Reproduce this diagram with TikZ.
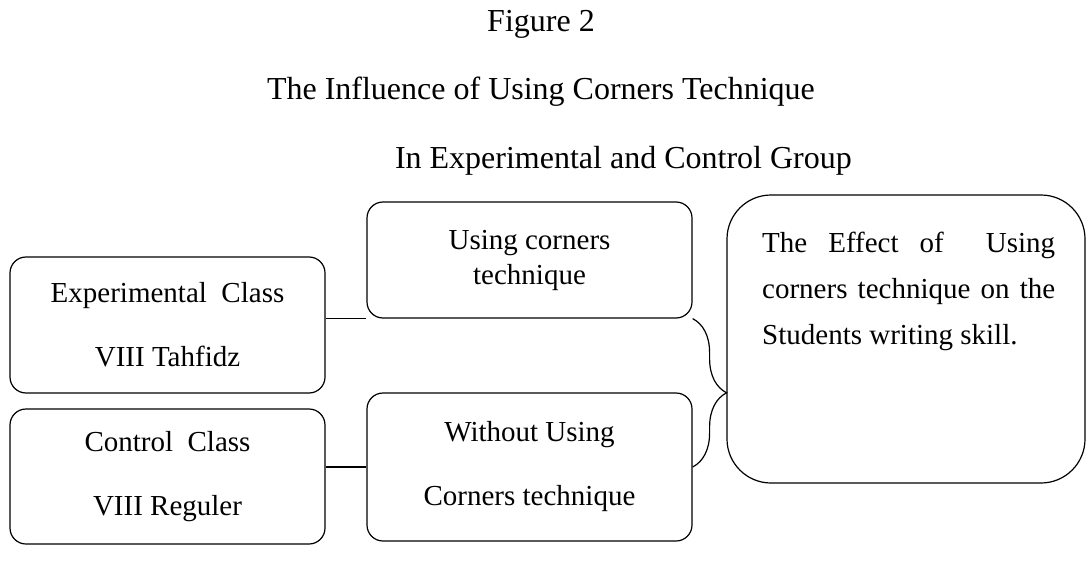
\documentclass[tikz,border=0pt]{standalone}
\usepackage{fontspec}
\setmainfont{Liberation Serif}
\usetikzlibrary{decorations.pathreplacing}

\begin{document}
\begin{tikzpicture}[x=1pt,y=-1pt,
        txt/.style={font=\fontsize{32}{38}\selectfont, inner sep=0pt},
        box/.style={draw, line width=1.2pt, rounded corners=16pt, align=center, inner sep=0pt, font=\fontsize{29}{64}\selectfont}]
        \useasboundingbox (0,0) rectangle (1089,567);
        % titles
        \node[txt, anchor=base] (fig) at (541,32) {Figure 2};
        \node[txt, anchor=base east] (ttl) at (815,100) {The Influence of Using Corners Technique};
        \node[txt, anchor=base east] (sub) at (852,168) {In Experimental and Control Group};
        % boxes
        \node[box, minimum width=315, minimum height=136] (exp) at (167.5,325) {Experimental~~Class\\VIII Tahfidz};
        \node[box, minimum width=315, minimum height=135] (ctrl) at (167.5,476.5) {Control~~Class\\VIII Reguler};
        \node[box, minimum width=325, minimum height=116, font=\fontsize{29}{35}\selectfont] (using) at (529.5,260) {Using corners\\technique};
        \node[box, minimum width=325, minimum height=148] (without) at (529.5,467) {Without Using\\Corners technique};
        \node[box, minimum width=358, minimum height=288, rounded corners=44pt] (effect) at (906,339) {};
        \node[anchor=base west, inner sep=0pt, text width=293, align=justify, font=\fontsize{29}{46}\selectfont] (efftxt) at (762,252)
            {The Effect of~ Using\linebreak corners technique on the\linebreak Students writing skill.};
        % connectors
        \draw[line width=1.2pt] (exp.east |- using.south) -- (using.south west);
        \draw[line width=1.2pt] (without.west -| ctrl.east) -- (without.west);
        \draw[line width=1.2pt, decorate, decoration={brace, amplitude=34pt}] (using.south east) -- (without.east); % brace
\end{tikzpicture}
\end{document}
